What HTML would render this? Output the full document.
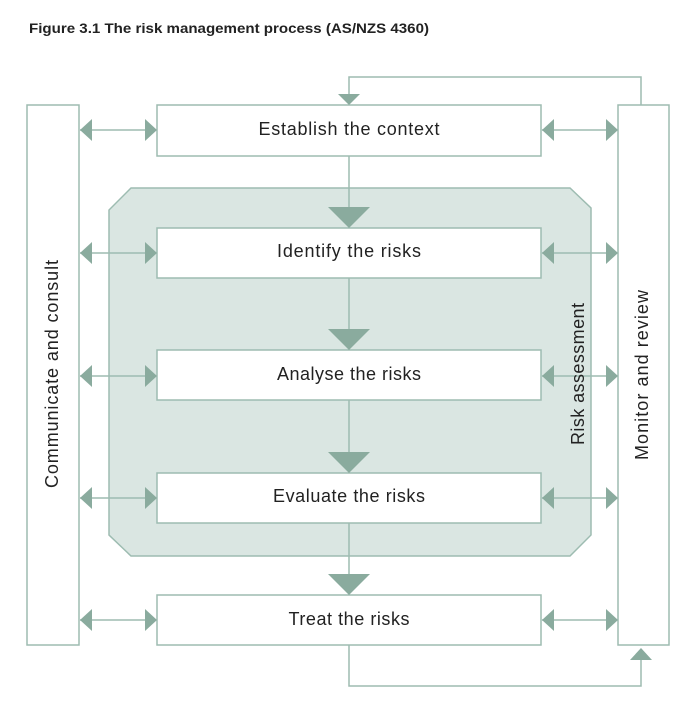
<!DOCTYPE html>
<html><head><style>body{margin:0;background:#fff}svg{display:block}</style></head><body>
<svg width="696" height="713" viewBox="0 0 696 713" xmlns="http://www.w3.org/2000/svg" font-family="Liberation Sans, sans-serif">
<rect width="696" height="713" fill="#fff"/>
<text x="29" y="33" font-size="14" font-weight="bold" fill="#222" textLength="400" lengthAdjust="spacingAndGlyphs">Figure 3.1 The risk management process (AS/NZS 4360)</text>
<g stroke="#9dbcb1" stroke-width="1.5" fill="none">
<polygon points="131,188 570,188 591,208 591,535 570,556 131,556 109,535 109,210" fill="#dae6e2"/>
<polyline points="349,104 349,77 641,77 641,105"/>
<polyline points="349,645 349,686 641,686 641,657"/>
<line x1="349" y1="156" x2="349" y2="228"/>
<line x1="349" y1="278" x2="349" y2="350"/>
<line x1="349" y1="400" x2="349" y2="473"/>
<line x1="349" y1="523" x2="349" y2="595"/>
<rect x="27" y="105" width="52" height="540" fill="#fff"/>
<rect x="618" y="105" width="51" height="540" fill="#fff"/>
<rect x="157" y="105" width="384" height="51" fill="#fff"/>
<rect x="157" y="228" width="384" height="50" fill="#fff"/>
<rect x="157" y="350" width="384" height="50" fill="#fff"/>
<rect x="157" y="473" width="384" height="50" fill="#fff"/>
<rect x="157" y="595" width="384" height="50" fill="#fff"/>
<line x1="80" y1="130" x2="156" y2="130"/><line x1="542" y1="130" x2="617" y2="130"/>
<line x1="80" y1="253" x2="156" y2="253"/><line x1="542" y1="253" x2="617" y2="253"/>
<line x1="80" y1="376" x2="156" y2="376"/><line x1="542" y1="376" x2="617" y2="376"/>
<line x1="80" y1="498" x2="156" y2="498"/><line x1="542" y1="498" x2="617" y2="498"/>
<line x1="80" y1="620" x2="156" y2="620"/><line x1="542" y1="620" x2="617" y2="620"/>
</g>
<g fill="#8aab9e">
<polygon points="338,94 360,94 349,105"/>
<polygon points="630,660 652,660 641,648"/>
<polygon points="328,207 370,207 349,228"/>
<polygon points="328,329 370,329 349,350"/>
<polygon points="328,452 370,452 349,473"/>
<polygon points="328,574 370,574 349,595"/>
<g id="a">
<polygon points="80,130 92,119 92,141"/><polygon points="157,130 145,119 145,141"/>
<polygon points="542,130 554,119 554,141"/><polygon points="618,130 606,119 606,141"/>
</g>
<use href="#a" y="123"/><use href="#a" y="246"/><use href="#a" y="368"/><use href="#a" y="490"/>
</g>
<g font-size="18" fill="#222" text-anchor="middle" lengthAdjust="spacingAndGlyphs">
<text x="349" y="135" textLength="181">Establish the context</text>
<text x="349" y="257" textLength="144">Identify the risks</text>
<text x="349" y="380" textLength="144">Analyse the risks</text>
<text x="349" y="502" textLength="152">Evaluate the risks</text>
<text x="349" y="625" textLength="121">Treat the risks</text>
<text transform="translate(58,374) rotate(-90)" textLength="228">Communicate and consult</text>
<text transform="translate(584,374) rotate(-90)" textLength="142">Risk assessment</text>
<text transform="translate(648,375) rotate(-90)" textLength="170">Monitor and review</text>
</g>
</svg>
</body></html>
